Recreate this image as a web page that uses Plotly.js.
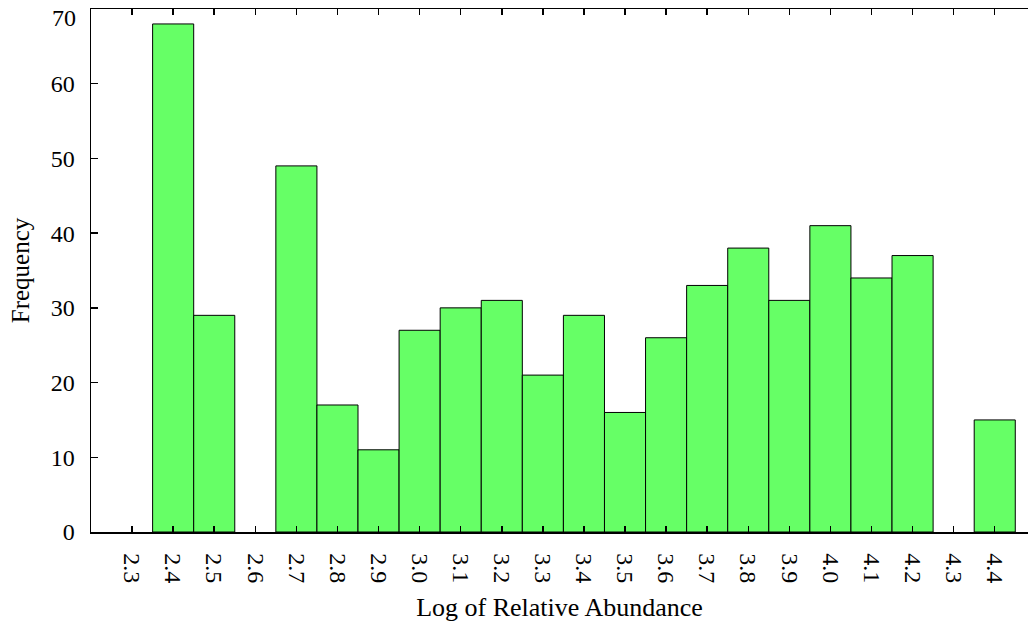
<!DOCTYPE html>
<html>
<head>
<meta charset="utf-8">
<script src="https://cdn.plot.ly/plotly-3.0.1.min.js"></script>
<style>
html,body{margin:0;padding:0;background:#fff;}
#chart{width:1028px;height:626px;}
</style>
</head>
<body>
<div id="chart"></div>
<script>
const categories = ["2.3","2.4","2.5","2.6","2.7","2.8","2.9","3.0","3.1","3.2","3.3","3.4","3.5","3.6","3.7","3.8","3.9","4.0","4.1","4.2","4.3","4.4"];
const frequencies = [0,68,29,0,49,17,11,27,30,31,21,29,16,26,33,38,31,41,34,37,0,15];
const yTicks = [0,10,20,30,40,50,60,70];

const FONT = "Liberation Serif, DejaVu Serif, serif";

// zero-height bins are left empty (no outline drawn on the axis)
const drawnValues = frequencies.map(v => (v === 0 ? null : v));

const trace = {
  type: "bar",
  x: categories,
  y: drawnValues,
  marker: {color: "#66ff66", line: {color: "#000000", width: 1}},
  width: 1,
  hoverinfo: "x+y"
};

const topTick = yTicks[yTicks.length - 1];

const layout = {
  width: 1028,
  height: 626,
  margin: {l: 91, r: 0, t: 9, b: 94, pad: 0},
  paper_bgcolor: "#ffffff",
  plot_bgcolor: "#ffffff",
  bargap: 0,
  showlegend: false,
  font: {family: FONT, size: 24, color: "#000"},
  xaxis: {
    type: "category",
    range: [-1, 21.81],
    showgrid: false,
    zeroline: false,
    showline: true,
    linecolor: "#000",
    linewidth: 1.5,
    mirror: "allticks",
    ticks: "inside",
    ticklen: 6,
    tickwidth: 1.5,
    tickcolor: "#000",
    tickangle: 90,
    ticklabelstandoff: 15,
    tickfont: {family: FONT, size: 24},
    title: {text: "Log of Relative Abundance", font: {family: FONT, size: 26}, standoff: 15}
  },
  yaxis: {
    range: [0, 70],
    tickvals: yTicks,
    ticktext: yTicks.map(v => (v === topTick ? "" : String(v))),
    showgrid: false,
    zeroline: false,
    showline: true,
    linecolor: "#000",
    linewidth: 1.5,
    mirror: false,
    ticks: "inside",
    ticklen: 7,
    tickwidth: 1.5,
    tickcolor: "#000",
    ticklabelstandoff: 10,
    tickfont: {family: FONT, size: 24},
    title: {text: "Frequency", font: {family: FONT, size: 25}, standoff: 14}
  },
  annotations: [{
    xref: "paper", yref: "y",
    x: 0, y: topTick,
    text: String(topTick),
    showarrow: false,
    xanchor: "right", yanchor: "middle",
    xshift: -13, yshift: -9,
    font: {family: FONT, size: 24, color: "#000"}
  }]
};

Plotly.newPlot("chart", [trace], layout, {displayModeBar: false, staticPlot: true});
</script>
</body>
</html>
